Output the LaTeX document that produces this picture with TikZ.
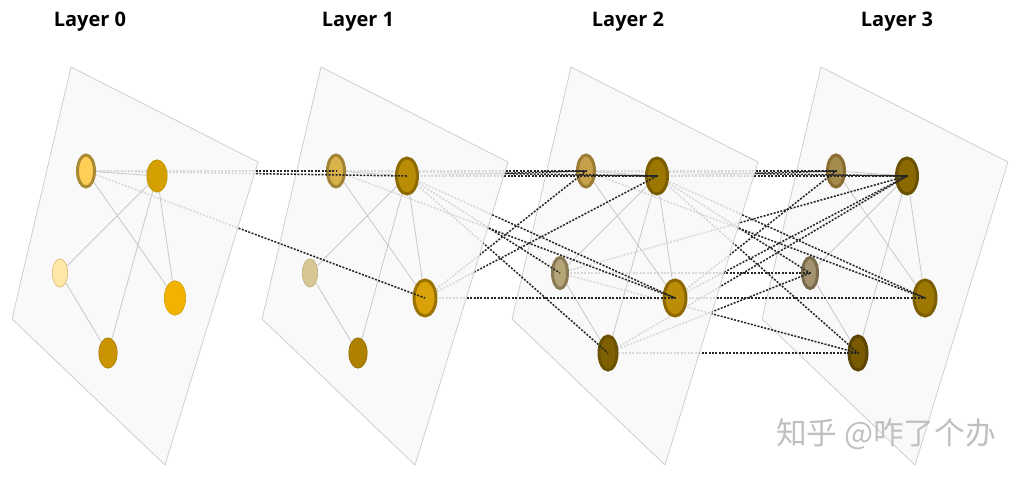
\documentclass[tikz,border=0pt]{standalone}
\usepackage{fontspec}
\newfontfamily\titlefont{Open Sans}
\newfontfamily\cjk{Noto Sans CJK SC}
\usetikzlibrary{shapes.geometric}

\definecolor{planefill}{RGB}{248,248,248}
\definecolor{planeline}{RGB}{200,200,200}
\definecolor{linkgray}{RGB}{200,200,200}
\definecolor{hopgray}{RGB}{38,38,38}
\definecolor{markgray}{RGB}{192,192,192}
% node colours: r = ring/border, f = fill
\definecolor{ra0}{HTML}{A88A35}\definecolor{fa0}{HTML}{FFCF55}
\definecolor{rb0}{HTML}{C09500}\definecolor{fb0}{HTML}{D4A000}
\definecolor{rc0}{HTML}{D9BE78}\definecolor{fc0}{HTML}{FFE7A8}
\definecolor{rd0}{HTML}{D6A000}\definecolor{fd0}{HTML}{F2B200}
\definecolor{re0}{HTML}{AE8000}\definecolor{fe0}{HTML}{C99400}
\definecolor{ra1}{HTML}{A08335}\definecolor{fa1}{HTML}{D9B24A}
\definecolor{rb1}{HTML}{8C6A00}\definecolor{fb1}{HTML}{B98D05}
\definecolor{rc1}{HTML}{BFAE78}\definecolor{fc1}{HTML}{D7C794}
\definecolor{rd1}{HTML}{9A7200}\definecolor{fd1}{HTML}{D9A208}
\definecolor{re1}{HTML}{966F00}\definecolor{fe1}{HTML}{AE8100}
\definecolor{ra2}{HTML}{9B7C35}\definecolor{fa2}{HTML}{C4A14A}
\definecolor{rb2}{HTML}{7B5D00}\definecolor{fb2}{HTML}{9C7700}
\definecolor{rc2}{HTML}{8A7B55}\definecolor{fc2}{HTML}{B5A577}
\definecolor{rd2}{HTML}{8C6700}\definecolor{fd2}{HTML}{BB8C05}
\definecolor{re2}{HTML}{6B5200}\definecolor{fe2}{HTML}{7E6000}
\definecolor{ra3}{HTML}{8A6C30}\definecolor{fa3}{HTML}{A48C4C}
\definecolor{rb3}{HTML}{6A5100}\definecolor{fb3}{HTML}{8A6A00}
\definecolor{rc3}{HTML}{7A6C4C}\definecolor{fc3}{HTML}{A39370}
\definecolor{rd3}{HTML}{7C5D00}\definecolor{fd3}{HTML}{9C7802}
\definecolor{re3}{HTML}{5B4500}\definecolor{fe3}{HTML}{7A5A00}

\pgfdeclarelayer{p3}\pgfdeclarelayer{e3}\pgfdeclarelayer{g3}\pgfdeclarelayer{h2}
\pgfdeclarelayer{p2}\pgfdeclarelayer{e2}\pgfdeclarelayer{g2}\pgfdeclarelayer{h1}
\pgfdeclarelayer{p1}\pgfdeclarelayer{e1}\pgfdeclarelayer{g1}\pgfdeclarelayer{h0}
\pgfdeclarelayer{p0}\pgfdeclarelayer{e0}
\pgfsetlayers{p3,e3,g3,h2,p2,e2,g2,h1,p1,e1,g1,h0,p0,e0,main}

\tikzset{
  plane/.style={draw=planeline, line width=0.5pt, fill=planefill, fill opacity=0.85},
  link/.style={draw=linkgray, line width=0.6pt},
  hop/.style={draw=hopgray, line width=1.15pt, dash pattern=on 1.5pt off 1.1pt},
  ring/.style={ellipse, inner sep=0pt, draw=r#1, fill=f#1, line width=2.25pt},
  flat/.style={ellipse, inner sep=0pt, draw=r#1, fill=f#1, line width=0.5pt},
  size a/.style={minimum width=12.75pt, minimum height=24pt},
  size b/.style={minimum width=15.75pt, minimum height=27pt},
  size c/.style={minimum width=11.25pt, minimum height=23.25pt},
  size d/.style={minimum width=16.5pt, minimum height=27pt},
  size e/.style={minimum width=13.5pt, minimum height=25.5pt},
  title/.style={anchor=base, font=\titlefont\bfseries\fontsize{15}{18}\selectfont},
}

\begin{document}
\begin{tikzpicture}[x=0.75pt, y=-0.75pt]
  \useasboundingbox (0,0) rectangle (1024,477);

  % titles
  \node[title] (t0) at (90,27)  {Layer 0};
  \node[title] (t1) at (358,27) {Layer 1};
  \node[title] (t2) at (628,27) {Layer 2};
  \node[title] (t3) at (897,27) {Layer 3};

  % planes
  \begin{pgfonlayer}{p0}
    \draw[plane] (71,67) -- (258,162) -- (165,465) -- (12,319) -- cycle;
  \end{pgfonlayer}
  \begin{pgfonlayer}{p1}
    \draw[plane] (321,67) -- (508,162) -- (415,465) -- (262,319) -- cycle;
  \end{pgfonlayer}
  \begin{pgfonlayer}{p2}
    \draw[plane] (571,67) -- (758,162) -- (665,465) -- (512,319) -- cycle;
  \end{pgfonlayer}
  \begin{pgfonlayer}{p3}
    \draw[plane] (821,67) -- (1008,162) -- (915,465) -- (762,319) -- cycle;
  \end{pgfonlayer}

  % layer 0
  \node[ring=a0, size a] (a0) at (86,171) {};
  \node[flat=b0, minimum width=15.25pt, minimum height=24.25pt] (b0) at (157,176) {};
  \node[flat=c0, minimum width=11.5pt, minimum height=21.25pt] (c0) at (60,273) {};
  \node[flat=d0, minimum width=16pt, minimum height=25.75pt] (d0) at (175,298) {};
  \node[flat=e0, minimum width=13.75pt, minimum height=22.75pt] (e0) at (108,353) {};

  % layer 1
  \begin{pgfonlayer}{g1}
    \node[ring=a1, size a] (a1) at (336,171) {};
    \node[ring=b1, size b] (b1) at (407,176) {};
    \node[flat=c1, minimum width=11.5pt, minimum height=21.25pt] (c1) at (310,273) {};
    \node[ring=d1, size d] (d1) at (425,298) {};
    \node[flat=e1, minimum width=13.75pt, minimum height=22.75pt] (e1) at (358,353) {};
  \end{pgfonlayer}

  % layer 2
  \begin{pgfonlayer}{g2}
    \node[ring=a2, size a] (a2) at (586,171) {};
    \node[ring=b2, size b] (b2) at (657,176) {};
    \node[ring=c2, size c] (c2) at (560,273) {};
    \node[ring=d2, size d] (d2) at (675,298) {};
    \node[ring=e2, size e] (e2) at (608,353) {};
  \end{pgfonlayer}

  % layer 3
  \begin{pgfonlayer}{g3}
    \node[ring=a3, size a] (a3) at (836,171) {};
    \node[ring=b3, size b] (b3) at (907,176) {};
    \node[ring=c3, size c] (c3) at (810,273) {};
    \node[ring=d3, size d] (d3) at (925,298) {};
    \node[ring=e3, size e] (e3) at (858,353) {};
  \end{pgfonlayer}

  % graph edges
  \begin{pgfonlayer}{e0}
    \path[link] (a0) edge (b0) (a0) edge (d0) (b0) edge (c0)
                (b0) edge (d0) (b0) edge (e0) (c0) edge (e0);
  \end{pgfonlayer}
  \begin{pgfonlayer}{e1}
    \path[link] (a1) edge (b1) (a1) edge (d1) (b1) edge (c1)
                (b1) edge (d1) (b1) edge (e1) (c1) edge (e1);
  \end{pgfonlayer}
  \begin{pgfonlayer}{e2}
    \path[link] (a2) edge (b2) (a2) edge (d2) (b2) edge (c2)
                (b2) edge (d2) (b2) edge (e2) (c2) edge (e2);
  \end{pgfonlayer}
  \begin{pgfonlayer}{e3}
    \path[link] (a3) edge (b3) (a3) edge (d3) (b3) edge (c3)
                (b3) edge (d3) (b3) edge (e3) (c3) edge (e3);
  \end{pgfonlayer}

  % layer 0 -> layer 1
  \begin{pgfonlayer}{h0}
    \path[hop] (a0.center) edge (a1.center);
    \path[hop] (a0.center) edge (b1.center);
    \path[hop] (a0.center) edge (d1.center);
  \end{pgfonlayer}

  % layer 1 -> layer 2
  \begin{pgfonlayer}{h1}
    \path[hop] (a1.center) edge (a2.center);
    \path[hop] (a1.center) edge (b2.center);
    \path[hop] (a1.center) edge (d2.center);
    \path[hop] (b1.center) edge (b2.center);
    \path[hop] (b1.center) edge (a2.center);
    \path[hop] (b1.center) edge (c2.center);
    \path[hop] (b1.center) edge (d2.center);
    \path[hop] (b1.center) edge (e2.center);
    \path[hop] (d1.center) edge (d2.center);
    \path[hop] (d1.center) edge (a2.center);
    \path[hop] (d1.center) edge (b2.center);
  \end{pgfonlayer}

  % layer 2 -> layer 3
  \begin{pgfonlayer}{h2}
    \path[hop] (a2.center) edge (a3.center);
    \path[hop] (a2.center) edge (b3.center);
    \path[hop] (a2.center) edge (d3.center);
    \path[hop] (b2.center) edge (b3.center);
    \path[hop] (b2.center) edge (a3.center);
    \path[hop] (b2.center) edge (c3.center);
    \path[hop] (b2.center) edge (d3.center);
    \path[hop] (b2.center) edge (e3.center);
    \path[hop] (c2.center) edge (c3.center);
    \path[hop] (c2.center) edge (b3.center);
    \path[hop] (c2.center) edge (e3.center);
    \path[hop] (d2.center) edge (d3.center);
    \path[hop] (d2.center) edge (a3.center);
    \path[hop] (d2.center) edge (b3.center);
    \path[hop] (e2.center) edge (e3.center);
    \path[hop] (e2.center) edge (b3.center);
    \path[hop] (e2.center) edge (c3.center);
  \end{pgfonlayer}

  % watermark
  \node[text=markgray, font=\cjk\fontsize{23}{27}\selectfont] (mark) at (886,434) {知乎 @咋了个办};

\end{tikzpicture}
\end{document}
